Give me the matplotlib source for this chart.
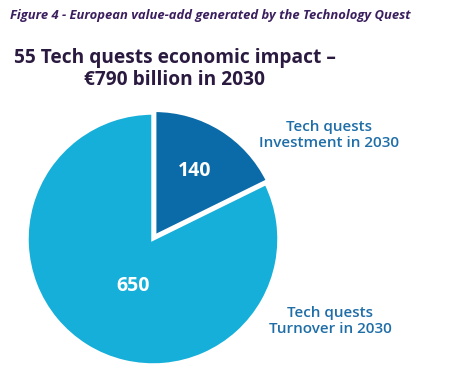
import matplotlib.pyplot as plt

labels = ['Tech quests\nInvestment in 2030', 'Tech quests\nTurnover in 2030']
values = [140, 650]
colors = ['#0b6ba8', '#16afd9']

W, H = 460, 381
fig = plt.figure(figsize=(W / 100, H / 100), dpi=100, facecolor='white')

# pie centred at (153, 239) px, radius ~126 px
cx, cy, r = 153, 239, 126
ax = fig.add_axes([(cx - r) / W, (H - cy - r) / H, 2 * r / W, 2 * r / H])
wedges, _ = ax.pie(values, colors=colors, startangle=90, counterclock=False,
                   explode=[0.025, 0], radius=1.0,
                   wedgeprops=dict(edgecolor='white', linewidth=2.5))
ax.set_xlim(-1, 1)
ax.set_ylim(-1, 1)
ax.set_aspect('equal')
ax.axis('off')

# values inside the slices
ax.text(0.33, 0.54, f'{values[0]}', color='white', fontsize=14, fontweight='bold',
        family='Open Sans', ha='center', va='center')
ax.text(-0.16, -0.37, f'{values[1]}', color='white', fontsize=14, fontweight='bold',
        family='Open Sans', ha='center', va='center')

# slice labels
lab_col = '#1f6ea8'
fig.text(329 / W, 1 - 135 / H, labels[0], color=lab_col, fontsize=11,
         family='Open Sans', fontweight='semibold', ha='center', va='center',
         linespacing=1.15)
fig.text(330 / W, 1 - 321 / H, labels[1], color=lab_col, fontsize=11,
         family='Open Sans', fontweight='semibold', ha='center', va='center',
         linespacing=1.15)

# titles
fig.text(10 / W, 1 - 16 / H, 'Figure 4 - European value-add generated by the Technology Quest',
         color='#3b1f5e', fontsize=9.4, fontstyle='italic', fontweight='bold',
         family='Open Sans', ha='left', va='center')
fig.text(175 / W, 1 - 69 / H, '55 Tech quests economic impact –\n€790 billion in 2030',
         color='#2b1a40', fontsize=13.8, fontweight='bold', family='Open Sans',
         ha='center', va='center', linespacing=1.12)

fig.savefig('out.png', dpi=100, facecolor='white')
